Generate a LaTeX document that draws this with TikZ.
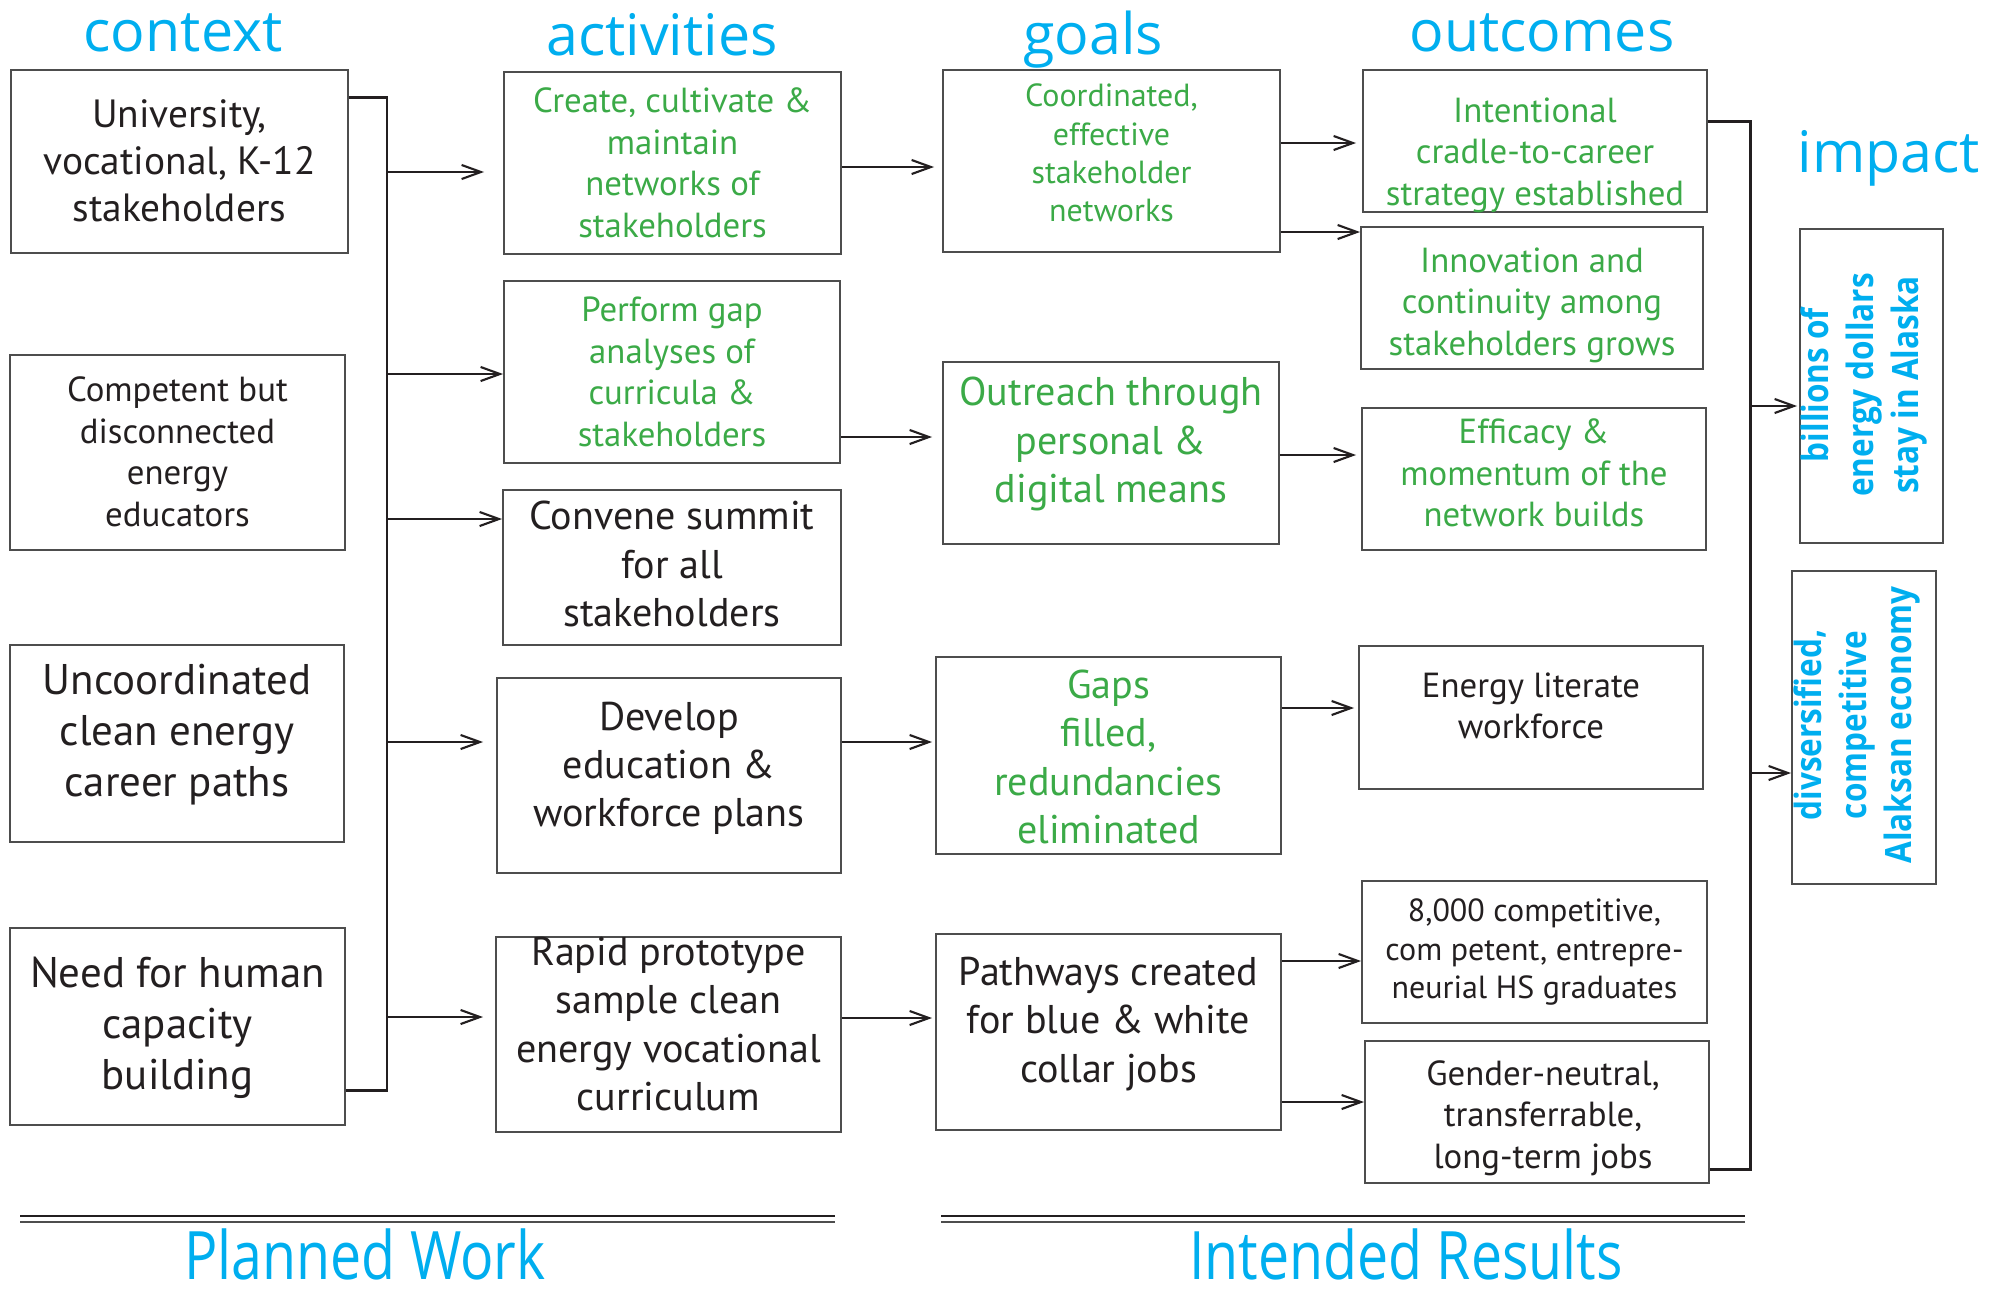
\documentclass[tikz,border=0pt]{standalone}
\usepackage{fontspec}
\setmainfont{PT Sans}
\newfontfamily\headfont{Open Sans}
\newfontfamily\narrowfont[FakeStretch=0.83]{Open Sans}
\newfontfamily\impactfont[FakeStretch=0.87]{Open Sans}
\usetikzlibrary{arrows.meta,fit}

\definecolor{headcyan}{HTML}{00AEEF}
\definecolor{textgreen}{HTML}{3BAA47}
\definecolor{ink}{HTML}{231F20}
\definecolor{edge}{HTML}{4D4D4D}

\tikzset{
  box/.style={draw=edge, line width=0.55pt, inner sep=0pt},
  txt/.style={align=center, text=ink, inner sep=0pt},
  grn/.style={txt, text=textgreen},
  head/.style={text=headcyan, font=\headfont\fontsize{16.3}{18}\selectfont, anchor=base, inner sep=0pt},
  foot/.style={text=headcyan, font=\narrowfont\fontsize{19}{22}\selectfont, anchor=base, inner sep=0pt},
  imp/.style={text=headcyan, font=\impactfont\bfseries\fontsize{10.3}{12.8}\selectfont, align=center, rotate=90, inner sep=0pt},
  arr/.style={draw=ink, line width=0.6pt, -{Straight Barb[length=5.5pt,width=4pt]}},
  bus/.style={draw=ink, line width=0.85pt},
  s95/.style={font=\fontsize{9.1}{10.9}\selectfont},
  s104/.style={font=\fontsize{9.9}{11.8}\selectfont},
  s116/.style={font=\fontsize{11.2}{13.4}\selectfont},
  s118/.style={font=\fontsize{11.4}{13.7}\selectfont},
  s122/.style={font=\fontsize{12.2}{14.5}\selectfont},
}

\begin{document}
\begin{tikzpicture}[x=0.01cm, y=-0.01cm]
\useasboundingbox (0,0) rectangle (1996,1290);

% column headings
\node[head] (hctx) at (183,51) {context};
\node[head] (hact) at (662,55) {activities};
\node[head] (hgoal) at (1093,54) {goals};
\node[head] (hout) at (1542,51) {outcomes};
\node[head] (himp) at (1889,172) {impact};

% context
\node[box, fit={(11,70) (348,253)}] (c1) {};
\node[box, fit={(10,355) (345,550)}] (c2) {};
\node[box, fit={(10,645) (344,842)}] (c3) {};
\node[box, fit={(10,928) (345,1125)}] (c4) {};
\node[txt, s116] (c1t) at (c1 |- 0,161) {University,\\vocational, K-12\\stakeholders};
\node[txt, s104] (c2t) at (c2 |- 0,452) {Competent but\\disconnected\\energy\\educators};
\node[txt, s122] (c3t) at (c3 |- 0,735) {Uncoordinated\\clean energy\\career paths};
\node[txt, s122] (c4t) at (c4 |- 0,1028) {Need for human\\capacity\\building};

% activities
\node[box, fit={(504,72) (841,254)}] (a1) {};
\node[box, fit={(504,281) (840,463)}] (a2) {};
\node[box, fit={(503,490) (841,645)}] (a3) {};
\node[box, fit={(497,678) (841,873)}] (a4) {};
\node[box, fit={(496,937) (841,1132)}] (a5) {};
\node[grn, s104] (a1t) at (a1 |- 0,163) {Create, cultivate \&\\maintain\\networks of\\stakeholders};
\node[grn, s104] (a2t) at (a2 |- 0,372) {Perform gap\\analyses of\\curricula \&\\stakeholders};
\node[txt, s118] (a3t) at (a3 |- 0,564) {Convene summit\\for all\\stakeholders};
\node[txt, s118] (a4t) at (a4 |- 0,768) {Develop\\education \&\\workforce plans};
\node[txt, s118] (a5t) at (a5 |- 0,1024) {Rapid prototype\\sample clean\\energy vocational\\curriculum};

% goals
\node[box, fit={(943,70) (1280,252)}] (g1) {};
\node[box, fit={(943,362) (1279,544)}] (g2) {};
\node[box, fit={(936,657) (1281,854)}] (g3) {};
\node[box, fit={(936,934) (1281,1130)}] (g4) {};
\node[grn, s95] (g1t) at (g1 |- 0,153) {Coordinated,\\effective\\stakeholder\\networks};
\node[grn, s118] (g2t) at (g2 |- 0,444) {Outreach through\\personal \&\\digital means};
\node[grn, s118] (g3t) at (g3 |- 0,757) {Gaps\\filled,\\redundancies\\eliminated};
\node[txt, s118] (g4t) at (g4 |- 0,1024) {Pathways created\\for blue \& white\\collar jobs};

% outcomes
\node[box, fit={(1363,70) (1707,212)}] (o1) {};
\node[box, fit={(1361,227) (1703,369)}] (o2) {};
\node[box, fit={(1362,408) (1706,550)}] (o3) {};
\node[box, fit={(1359,646) (1703,789)}] (o4) {};
\node[box, fit={(1362,881) (1707,1023)}] (o5) {};
\node[box, fit={(1365,1041) (1709,1183)}] (o6) {};
\node[grn, s104] (o1t) at (o1 |- 0,155) {Intentional\\cradle-to-career\\strategy established};
\node[grn, s104] (o2t) at (o2 |- 0,305) {Innovation and\\continuity among\\stakeholders grows};
\node[grn, s104] (o3t) at (o3 |- 0,473) {Efficacy \&\\momentum of the\\network builds};
\node[txt, s104] (o4t) at (o4 |- 0,706) {Energy literate\\workforce};
\node[txt, s95] (o5t) at (o5 |- 0,952) {8,000 competitive,\\com petent, entrepre-\\neurial HS graduates};
\node[txt, s104] (o6t) at (1543,1118) {Gender-neutral,\\transferrable,\\long-term jobs};

% impact
\node[box, fit={(1800,229) (1943,543)}] (i1) {};
\node[box, fit={(1792,571) (1936,884)}] (i2) {};
\node[imp] (i1t) at (1864,385) {billions of\\energy dollars\\stay in Alaska};
\node[imp] (i2t) at (1857,725) {divsersified,\\competitive\\Alaksan economy};

% context bus
\coordinate (cbt) at (387,97);
\coordinate (cbb) at (387,1090);
\draw[bus] (c1.east |- cbt) -- (cbt) -- (cbb) -- (c4.east |- cbb);
\foreach \n/\y/\g in {a1/172/19, a2/374/0, a3/519/0, a4/742/13, a5/1017/12}
  \draw[arr, shorten >=\g*0.01cm] (cbt |- 0,\y) -- (\n.west |- 0,\y);

% activities to goals
\foreach \s/\t/\y/\g in {a1/g1/167/8, a2/g2/437/10, a4/g3/742/3, a5/g4/1018/3}
  \draw[arr, shorten >=\g*0.01cm] (\s.east |- 0,\y) -- (\t.west |- 0,\y);

% goals to outcomes
\foreach \s/\t/\y/\g in {g1/o1/143/6, g1/o2/232/0, g2/o3/455/5, g3/o4/708/4, g4/o5/961/0, g4/o6/1102/0}
  \draw[arr, shorten >=\g*0.01cm] (\s.east |- 0,\y) -- (\t.west |- 0,\y);

% outcomes bus
\coordinate (obt) at (1750,121);
\coordinate (obb) at (1750,1169);
\draw[bus] (o1.east |- obt) -- (obt) -- (obb) -- (o6.east |- obb);
\foreach \n/\y/\g in {i1/406/2, i2/773/0}
  \draw[arr, shorten >=\g*0.01cm] (obt |- 0,\y) -- (\n.west |- 0,\y);

% footer rules and labels
\draw[ink, line width=0.5pt] (20,1216) -- (835,1216);
\draw[edge, line width=0.8pt] (20,1222) -- (835,1222);
\draw[ink, line width=0.5pt] (941,1216) -- (1745,1216);
\draw[edge, line width=0.8pt] (941,1222) -- (1745,1222);
\node[foot] (fplan) at (365,1279) {Planned Work};
\node[foot] (fres) at (1406,1279) {Intended Results};

\end{tikzpicture}
\end{document}
